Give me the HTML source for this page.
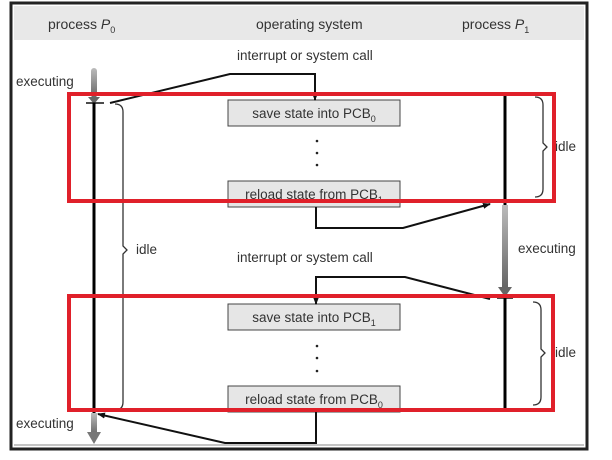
<!DOCTYPE html>
<html><head><style>body{margin:0;background:#fff}svg{display:block}text{font-family:"Liberation Sans",sans-serif;fill:#333}</style></head>
<body>
<svg width="612" height="460" viewBox="0 0 612 460" xmlns="http://www.w3.org/2000/svg">
<defs>
<linearGradient id="g" x1="0" x2="0" y1="0" y2="1"><stop offset="0" stop-color="#bbb"/><stop offset="1" stop-color="#666"/></linearGradient>
<marker id="a" markerWidth="8" markerHeight="8" refX="7" refY="4" orient="auto" markerUnits="userSpaceOnUse"><path d="M0,1 L8,4 L0,7z" fill="#111"/></marker>
</defs>
<rect x="11" y="3" width="576" height="446" fill="#fff" stroke="#222" stroke-width="3"/>
<rect x="14" y="6" width="570" height="34" fill="#e8e8e8"/>
<line x1="14" y1="445" x2="584" y2="445" stroke="#888" stroke-width="1"/>
<text x="48" y="29" font-size="14">process <tspan font-style="italic">P</tspan><tspan font-size="9" dy="4">0</tspan></text>
<text x="256" y="29" font-size="14">operating system</text>
<text x="462" y="29" font-size="14">process <tspan font-style="italic">P</tspan><tspan font-size="9" dy="4">1</tspan></text>
<text x="237" y="60" font-size="13.5">interrupt or system call</text>
<text x="237" y="262" font-size="13.5">interrupt or system call</text>
<text x="16" y="86" font-size="13.5">executing</text>
<text x="16" y="428" font-size="13.5">executing</text>
<text x="518" y="253" font-size="13.5">executing</text>
<text x="136" y="254" font-size="13.5">idle</text>
<text x="555" y="151" font-size="13.5">idle</text>
<text x="555" y="357" font-size="13.5">idle</text>
<!-- P0 -->
<rect x="91" y="68" width="6" height="30" rx="3" fill="url(#g)"/>
<path d="M88,97 L100,97 L94,104z" fill="#666"/>
<line x1="86" y1="103" x2="104" y2="103" stroke="#111" stroke-width="1.5"/>
<line x1="94" y1="103" x2="94" y2="413" stroke="#000" stroke-width="3"/>
<rect x="91" y="413" width="6" height="22" fill="url(#g)"/>
<path d="M87,432 L101,432 L94,444z" fill="#777"/>
<!-- P1 -->
<line x1="505" y1="96" x2="505" y2="205" stroke="#000" stroke-width="3"/>
<rect x="502" y="205" width="6" height="82" fill="url(#g)"/>
<path d="M498,287 L512,287 L505,297z" fill="#666"/>
<line x1="497" y1="298" x2="513" y2="298" stroke="#111" stroke-width="1.5"/>
<line x1="505" y1="298" x2="505" y2="410" stroke="#000" stroke-width="3"/>
<!-- boxes -->
<g fill="#e6e6e6" stroke="#444" stroke-width="1">
<rect x="228" y="100" width="172" height="26"/><rect x="228" y="181" width="172" height="26"/>
<rect x="228" y="304" width="172" height="26"/><rect x="228" y="386" width="172" height="26"/>
</g>
<text x="314" y="118" font-size="13.5" text-anchor="middle">save state into PCB<tspan font-size="9" dy="4">0</tspan></text>
<text x="314" y="199" font-size="13.5" text-anchor="middle">reload state from PCB<tspan font-size="9" dy="4">1</tspan></text>
<text x="314" y="322" font-size="13.5" text-anchor="middle">save state into PCB<tspan font-size="9" dy="4">1</tspan></text>
<text x="314" y="404" font-size="13.5" text-anchor="middle">reload state from PCB<tspan font-size="9" dy="4">0</tspan></text>
<g fill="#222"><circle cx="317" cy="141" r="1.3"/><circle cx="317" cy="153" r="1.3"/><circle cx="317" cy="165" r="1.3"/>
<circle cx="317" cy="346" r="1.3"/><circle cx="317" cy="358" r="1.3"/><circle cx="317" cy="371" r="1.3"/></g>
<!-- connectors -->
<g fill="none" stroke="#111" stroke-width="2">
<path d="M110,103 L230,74 L315,74 L315,100" marker-end="url(#a)"/>
<path d="M316,207 L316,228 L403,228 L490,204" marker-end="url(#a)"/>
<path d="M490,299 L405,277 L316,277 L316,304" marker-end="url(#a)"/>
<path d="M316,412 L316,443 L225,443 L98,414" marker-end="url(#a)"/>
</g>
<!-- braces -->
<g fill="none" stroke="#333" stroke-width="1.3">
<path d="M115,104 Q123,104 123,112 L123,246 L127,250 L123,254 L123,402 Q123,410 115,410"/>
<path d="M535,97 Q543,97 543,105 L543,143 L547,147 L543,151 L543,189 Q543,197 535,197"/>
<path d="M533,302 Q541,302 541,310 L541,349 L545,353 L541,357 L541,397 Q541,405 533,405"/>
</g>
<!-- red highlight -->
<g fill="none" stroke="#e0202a" stroke-width="4">
<rect x="69" y="94" width="485" height="107"/>
<rect x="69" y="296" width="484" height="114"/>
</g>
</svg>
</body></html>
